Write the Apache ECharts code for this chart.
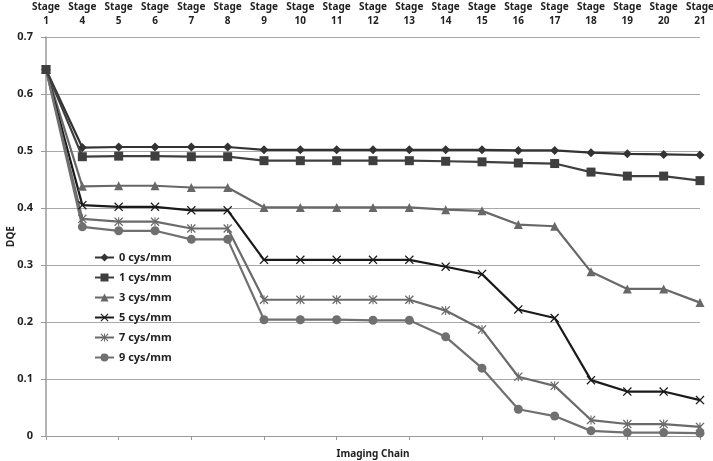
<!DOCTYPE html>
<html><head><meta charset="utf-8">
<script src="https://cdn.jsdelivr.net/npm/echarts@6/dist/echarts.min.js"></script>
<style>html,body{margin:0;padding:0;background:#fff}#c{width:713px;height:461px}</style>
</head><body><div id="c"></div>
<script>
var stages = [1, 4, 5, 6, 7, 8, 9, 10, 11, 12, 13, 14, 15, 16, 17, 18, 19, 20, 21];
var categories = stages.map(function (s) { return 'Stage\n' + s; });
var seriesNames = ['0 cys/mm', '1 cys/mm', '3 cys/mm', '5 cys/mm', '7 cys/mm', '9 cys/mm'];
var dqe0 = [0.643, 0.506, 0.507, 0.507, 0.507, 0.507, 0.502, 0.502, 0.502, 0.502, 0.502, 0.502, 0.502, 0.501, 0.501, 0.497, 0.495, 0.494, 0.493];
var dqe1 = [0.643, 0.490, 0.491, 0.491, 0.490, 0.490, 0.483, 0.483, 0.483, 0.483, 0.483, 0.482, 0.481, 0.479, 0.478, 0.463, 0.456, 0.456, 0.448];
var dqe3 = [0.643, 0.438, 0.439, 0.439, 0.436, 0.436, 0.401, 0.401, 0.401, 0.401, 0.401, 0.397, 0.395, 0.371, 0.368, 0.288, 0.258, 0.258, 0.234];
var dqe5 = [0.643, 0.405, 0.402, 0.402, 0.396, 0.396, 0.309, 0.309, 0.309, 0.309, 0.309, 0.297, 0.284, 0.222, 0.207, 0.098, 0.078, 0.078, 0.063];
var dqe7 = [0.643, 0.381, 0.376, 0.376, 0.364, 0.364, 0.239, 0.239, 0.239, 0.239, 0.239, 0.220, 0.187, 0.104, 0.088, 0.028, 0.021, 0.021, 0.016];
var dqe9 = [0.643, 0.367, 0.360, 0.360, 0.345, 0.345, 0.204, 0.204, 0.204, 0.203, 0.203, 0.174, 0.119, 0.047, 0.035, 0.009, 0.006, 0.006, 0.005];

var X_SYM = 'path://M0,1L1,0L5,4L9,0L10,1L6,5L10,9L9,10L5,6L1,10L0,9L4,5Z';
var STAR_SYM = 'path://M0,1L1,0L5,4L9,0L10,1L6,5L10,9L9,10L5,6L1,10L0,9L4,5Z M4.4,0L5.6,0L5.6,10L4.4,10Z';
var FONT = '"Noto Sans", "Open Sans", sans-serif';

function mk(name, data, color, symbol, size, z) {
  return {
    name: name, type: 'line', data: data, symbol: symbol, symbolSize: size,
    showSymbol: true, z: z || 2,
    lineStyle: { color: color, width: 2.2 },
    itemStyle: { color: color },
    emphasis: { disabled: true }, animation: false
  };
}

var chart = echarts.init(document.getElementById('c'));
chart.setOption({
  animation: false,
  grid: { left: 46, right: 13, top: 37, bottom: 25, containLabel: false, outerBoundsMode: 'none' },
  legend: {
    orient: 'vertical', left: 89, top: 247,
    itemWidth: 19, itemHeight: 10, itemGap: 9,
    textStyle: { fontFamily: FONT, fontWeight: 'bold', fontSize: 11, color: '#222' },
    data: seriesNames
  },
  xAxis: [{
    type: 'category', data: categories, boundaryGap: false, position: 'bottom',
    name: 'Imaging Chain', nameLocation: 'middle', nameGap: 13, nameMoveOverlap: false,
    nameTextStyle: { fontFamily: FONT, fontWeight: 'bold', fontSize: 10, color: '#222' },
    axisLine: { lineStyle: { color: '#9a9a9a', width: 1.2 } },
    axisTick: { show: true, alignWithLabel: true, length: 4, lineStyle: { color: '#9a9a9a' } },
    axisLabel: { show: false }, splitLine: { show: false }
  }, {
    type: 'category', data: categories, boundaryGap: false, position: 'top',
    axisLine: { show: false }, axisTick: { show: false }, splitLine: { show: false },
    axisLabel: { show: true, interval: 0, margin: 9, fontFamily: FONT, fontWeight: 'bold',
      fontSize: 10, color: '#222', lineHeight: 14 }
  }],
  yAxis: {
    type: 'value', min: 0, max: 0.7, interval: 0.1,
    name: 'DQE', nameLocation: 'middle', nameGap: 30, nameRotate: 90, nameMoveOverlap: false,
    nameTextStyle: { fontFamily: FONT, fontWeight: 'bold', fontSize: 10, color: '#222' },
    axisLine: { show: true, lineStyle: { color: '#9a9a9a', width: 1.5 } },
    axisTick: { show: true, length: 5, inside: false, lineStyle: { color: '#9a9a9a' } },
    axisLabel: { margin: 13, fontFamily: FONT, fontWeight: 'bold', fontSize: 11, color: '#222',
      formatter: function (v) { return v === 0 ? '0' : v.toFixed(1); } },
    splitLine: { show: true, lineStyle: { color: '#a8a8a8', width: 1 } }
  },
  series: [
    mk(seriesNames[0], dqe0, '#333333', 'diamond', 9, 2),
    mk(seriesNames[1], dqe1, '#3f3f3f', 'rect', 9, 4),
    mk(seriesNames[2], dqe3, '#686868', 'triangle', 9, 2),
    mk(seriesNames[3], dqe5, '#1a1a1a', X_SYM, 9, 2),
    mk(seriesNames[4], dqe7, '#6a6a6a', STAR_SYM, 9, 2),
    mk(seriesNames[5], dqe9, '#707070', 'circle', 9, 2)
  ]
});
</script></body></html>
